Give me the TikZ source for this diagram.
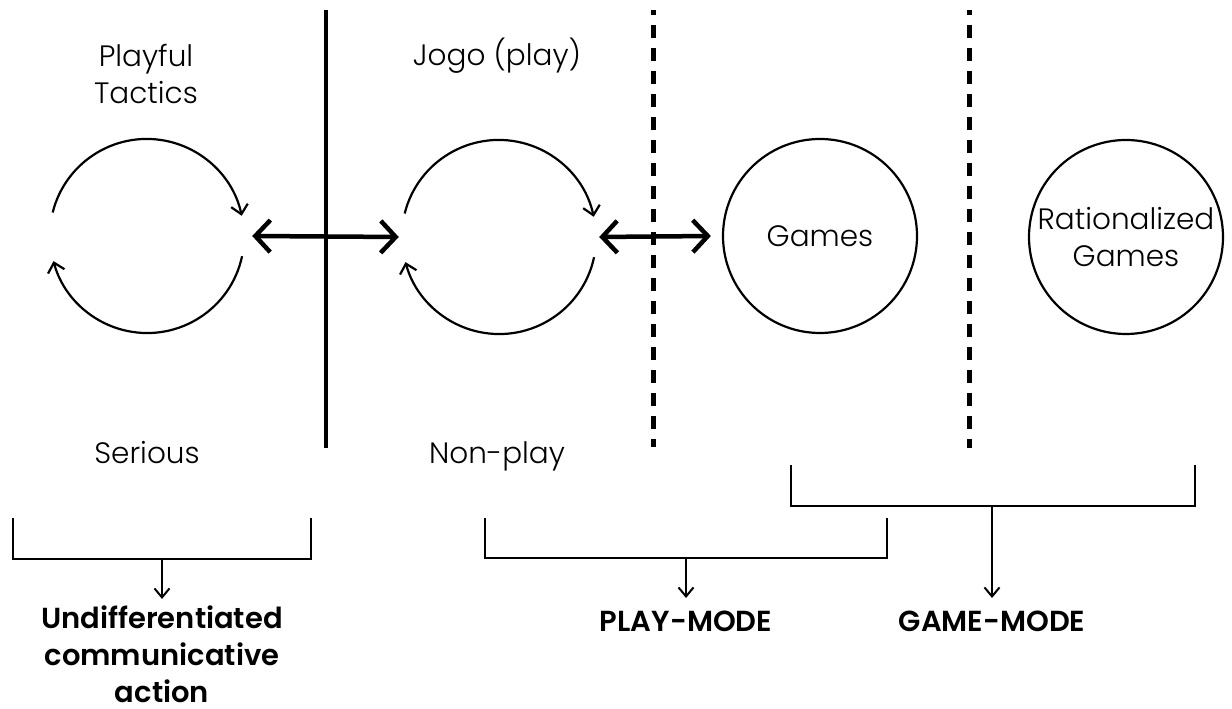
\documentclass[tikz,border=0pt]{standalone}
\usepackage{fontspec}
\setmainfont{Poppins}[UprightFont=* Light, BoldFont=* SemiBold]
\usetikzlibrary{arrows.meta}
\begin{document}
\begin{tikzpicture}[x=1pt,y=1pt,
  lbl/.style={font=\fontsize{29.5}{37}\selectfont, inner sep=0pt, align=center},
  boldlbl/.style={font=\fontsize{29}{37}\selectfont\bfseries, inner sep=0pt, align=center},
  ring/.style={circle, minimum size=194pt, inner sep=0pt},
  loopline/.style={line width=2.2pt, -{Straight Barb[length=9pt,width=17pt]}},
  link/.style={line width=4.5pt, {Straight Barb[length=15pt,width=32pt]}-{Straight Barb[length=15pt,width=32pt]}},
  wall/.style={line width=4.5pt},
  dwall/.style={line width=5pt, dash pattern=on 13pt off 10pt, dash phase=8pt},
  bracketline/.style={line width=2pt},
  downarrow/.style={line width=2pt, -{Straight Barb[length=9pt,width=15pt]}}]
\useasboundingbox (0,0) rectangle (1232,709);

% circles
\node[ring] (p1) at (147,473) {};
\node[ring] (p2) at (499,472) {};
\node[ring, draw, line width=2.2pt, lbl] (g) at (820,473) {Games};
\node[ring, draw, line width=2.2pt, lbl] (rg) at (1126,472) {Rationalized\\Games};

% loops
\draw[loopline] (p1.166) arc[start angle=166, end angle=12, radius=97pt];
\draw[loopline] (p1.-12) arc[start angle=-12, end angle=-165, radius=97pt];
\draw[loopline] (p2.166) arc[start angle=166, end angle=12, radius=97pt];
\draw[loopline] (p2.-12) arc[start angle=-12, end angle=-165, radius=97pt];

% double arrows
\draw[link] ([xshift=8pt]p1.east) -- ([xshift=-3pt]p2.west);
\draw[link] ([xshift=3pt]p2.east) -- ([xshift=-11pt]g.west);

% separators
\coordinate (w1t) at (326,699); \coordinate (w1b) at (326,261);
\coordinate (w2t) at (653,699); \coordinate (w2b) at (653,262);
\coordinate (w3t) at (969,699); \coordinate (w3b) at (969,261);
\draw[wall] (w1t) -- (w1b);
\draw[dwall] (w2t) -- (w2b);
\draw[dwall] (w3t) -- (w3b);

% labels
\node[lbl, anchor=base] (pt) at (146,605) {Playful\\Tactics};
\node[lbl, anchor=base] (jg) at (497,643) {Jogo (play)};
\node[lbl, anchor=base] (se) at (147,245) {Serious};
\node[lbl, anchor=base] (np) at (497,245) {Non-play};

% brackets
\coordinate (b1l) at (13,191); \coordinate (b1r) at (311,191); \coordinate (b1m) at (162,150); \coordinate (b1e) at (162,110);
\coordinate (b2l) at (485,191); \coordinate (b2r) at (887,191); \coordinate (b2m) at (686,151); \coordinate (b2e) at (686,111);
\coordinate (b3l) at (791,244); \coordinate (b3r) at (1195,244); \coordinate (b3m) at (992,203); \coordinate (b3e) at (992,111);
\draw[bracketline] (b1l) |- (b1m) -| (b1r);
\draw[bracketline] (b2l) |- (b2m) -| (b2r);
\draw[bracketline] (b3l) |- (b3m) -| (b3r);
\draw[downarrow] (b1m) -- (b1e);
\draw[downarrow] (b2m) -- (b2e);
\draw[downarrow] (b3m) -- (b3e);

\node[boldlbl, anchor=base] (ud) at (162,6) {Undifferentiated\\communicative\\action};
\node[boldlbl, anchor=base] (pm) at (686,77) {PLAY-MODE};
\node[boldlbl, anchor=base] (gm) at (992,77) {GAME-MODE};
\end{tikzpicture}
\end{document}
